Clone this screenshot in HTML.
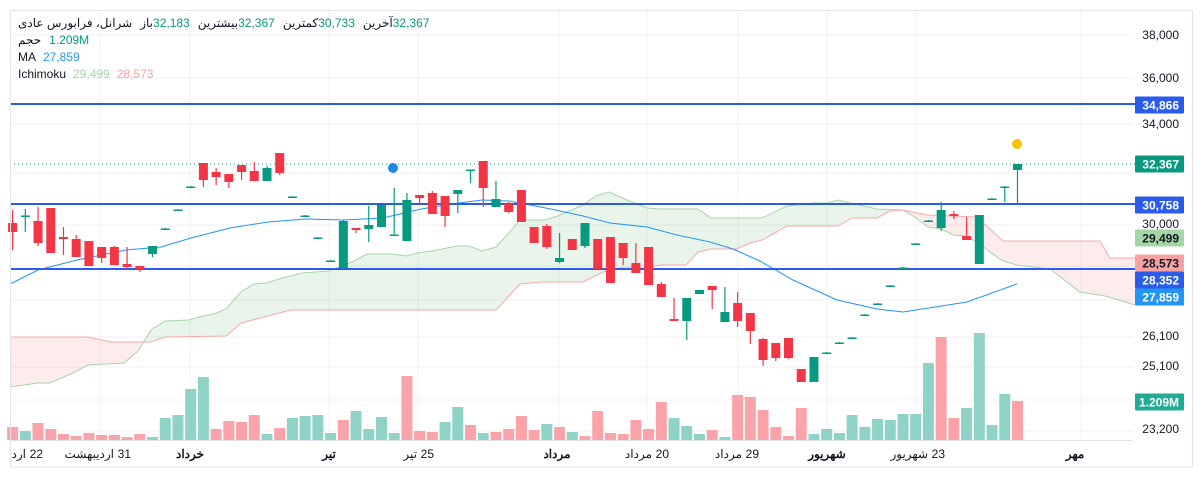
<!DOCTYPE html>
<html><head><meta charset="utf-8">
<style>
html,body{margin:0;padding:0;background:#fff;width:1203px;height:478px;overflow:hidden;font-family:"Liberation Sans","Noto Sans CJK SC",sans-serif}
.leg{position:absolute;left:18px;font-size:12px;color:#131722;white-space:nowrap;display:flex;direction:ltr}
.leg span{display:block}
.g{color:#089981}.b{color:#2196f3}.lg{color:#a5d6a7}.lr{color:#f7a2a2}
</style></head><body>
<svg id="s" width="1203" height="478" style="position:absolute;left:0;top:0" font-family="Liberation Sans, Noto Sans CJK SC, sans-serif"></svg>
<div class="leg" style="top:16px"><span>شرانل، فرابورس عادی</span><span style="width:8px"></span><span>باز</span><span class="g">32,183</span><span style="width:8px"></span><span>بیشترین</span><span class="g">32,367</span><span style="width:8px"></span><span>کمترین</span><span class="g">30,733</span><span style="width:8px"></span><span>آخرین</span><span class="g">32,367</span></div>
<div class="leg" style="top:33px"><span>حجم</span><span style="width:8px"></span><span class="g">1.209M</span></div>
<div class="leg" style="top:50px"><span>MA</span><span style="width:7px"></span><span class="b">27,859</span></div>
<div class="leg" style="top:67px"><span>Ichimoku</span><span style="width:7px"></span><span class="lg">29,499</span><span style="width:7px"></span><span class="lr">28,573</span></div>
<script>
const S=document.getElementById('s');let h='';
const X=i=>12.6+i*12.72;
[35,78,124,173,225,266,300,337,367,400,431].forEach(y=>h+=`<line x1="10" x2="1133" y1="${y}" y2="${y}" stroke="#f0f1f4"/>`);
[100,190,329,418,559,647,738,827,916,1081].forEach(x=>h+=`<line x1="${x}" x2="${x}" y1="10" y2="440" stroke="#f0f1f4"/>`);
const A=[[10,387],[38,383],[50,383],[73,373],[88,365],[124,363],[138,351],[151,330],[165,321],[189,320],[203,316],[214,314],[226,309],[241,292],[254,284],[266,283],[279,279],[302,273],[329,271],[354,261],[367,254],[392,254],[406,256],[417,253],[432,251],[457,246],[469,246],[482,251],[496,247],[509,233],[520,220],[545,220],[560,215],[583,205],[596,196],[609,192],[627,200],[647,208],[660,209],[698,209],[711,218],[762,218],[787,206],[813,203],[827,203],[838,200],[850,203],[877,209],[903,210],[913,216],[928,227],[942,229],[953,235],[965,236],[977,242],[990,252],[1003,261],[1017,265],[1050,269],[1080,292],[1105,296],[1135,305]];
const B=[[10,337],[88,337],[111,342],[151,342],[165,337],[226,336],[241,323],[279,313],[291,310],[496,310],[520,284],[543,282],[583,282],[603,272],[620,268],[647,268],[660,265],[686,265],[698,252],[711,249],[737,249],[750,243],[762,240],[787,226],[838,226],[852,218],[877,218],[890,211],[903,210],[927,215],[977,217],[1003,241],[1100,241],[1110,258],[1135,258]];
const pts=a=>a.map(p=>p.join(',')).join(' ');
const poly=pts(A)+' '+pts(B.slice().reverse());
h+=`<defs><clipPath id="ax"><rect x="11" y="440" width="1180" height="26"/></clipPath><clipPath id="cr"><rect x="0" y="0" width="146" height="478"/><rect x="903" y="0" width="240" height="478"/></clipPath><clipPath id="cg"><rect x="146" y="0" width="757" height="478"/></clipPath></defs>`;
h+=`<polygon points="${poly}" fill="rgba(242,54,69,0.1)" clip-path="url(#cr)"/>`;
h+=`<polygon points="${poly}" fill="rgba(76,175,80,0.12)" clip-path="url(#cg)"/>`;
h+=`<polyline points="${pts(A)}" fill="none" stroke="#a5d6a7" stroke-width="1"/>`;
h+=`<polyline points="${pts(B)}" fill="none" stroke="#f7a9a7" stroke-width="1"/>`;
const vt=[427,431,423,429,434,436,433,435,435,437,434,437,418,415,389,377,429,421,422,415,434,428,418,416,415,433,420,411,429,417,433,376,431,432,422,407,425,433,432,429,416,430,424,427,432,436,411,433,434,420,429,402,418,426,434,430,437,395,397,410,427,436,408,434,429,433,415,427,419,420,414,414,363,337,418,408,333,425,394,401];
const vc='rgrrrrrrrrrgggggrrrrgrggggrggggrrrggrgrrrrgrgrrrrrrrgggrgrrrrrrggggggggggrrgggg';
vt.forEach((t,i)=>{h+=`<rect x="${X(i)-5.5}" y="${t}" width="11" height="${440-t}" fill="${vc[i]=='g'?'#8fd3c7':'#faa3a9'}"/>`});
const M=[[10,284],[38,270],[77,260],[126,250],[161,247],[191,238],[230,228],[268,222],[306,219],[344,220],[383,218],[421,209],[459,203],[482,200],[509,201],[551,209],[583,216],[610,223],[647,227],[677,235],[710,242],[733,249],[760,261],[793,280],[837,300],[877,309],[903,312],[967,302],[1017,284]];
h+=`<polyline points="${pts(M)}" fill="none" stroke="#2196f3" stroke-width="1"/>`;
h+=`<line x1="10" x2="1135" y1="164" y2="164" stroke="#089981" stroke-dasharray="1,3"/>`;
[104,204,269].forEach(y=>h+=`<line x1="10" x2="1135" y1="${y}" y2="${y}" stroke="#2a5bea" stroke-width="2"/>`);
const C=[[0,223,232,210,250,'r'],[1,215.5,217,209,232,'g'],[2,221,243,207,246,'r'],[3,208,253,208,253,'r'],[4,237,239,227,255,'r'],[5,239,257,235,257,'r'],[6,241,266,241,266,'r'],[7,247,258,247,263,'r'],[8,247,265,246,265,'r'],[9,264,267,247,269,'r'],[10,266,269,266,272,'r'],[11,246,254,246,257,'g'],[12,228.5,230,228,230,'g'],[13,209.5,211,209,211,'g'],[14,186.5,188,186,188,'g'],[15,163,180,163,187,'r'],[16,172,177,168,185,'r'],[17,174,182,174,188,'r'],[18,165,172,165,180,'r'],[19,171,181,162,181,'r'],[20,168,181,166,181,'g'],[21,153,173,153,175,'r'],[22,196.5,198,196,198,'g'],[23,215.5,217,215,217,'g'],[24,237.5,239,237,239,'g'],[25,260.5,262,260,262,'g'],[26,221,268,220,268,'g'],[27,228,230,228,233,'r'],[28,225,229,206,242,'g'],[29,205,227,205,227,'g'],[30,234.5,236,188,236,'g'],[31,200,241,193,241,'g'],[32,195,198,195,204,'r'],[33,193,214,191,214,'r'],[34,196,216,196,227,'r'],[35,190,194,190,213,'g'],[36,169.5,171,170,183,'g'],[37,161,188,161,207,'r'],[38,199,207,181,207,'g'],[39,204,212,202,213,'r'],[40,190,222,190,222,'r'],[41,227,243,227,243,'r'],[42,226,247,224,249,'r'],[43,258,262,233,263,'g'],[44,239,250,239,250,'r'],[45,223,246,223,248,'g'],[46,239,269,239,269,'r'],[47,237,283,237,283,'r'],[48,243,258,243,265,'r'],[49,263,273,243,273,'r'],[50,247,285,247,285,'r'],[51,284,297,282,297,'r'],[52,319,321,298,321,'r'],[53,298,321,298,340,'g'],[54,290,294,290,294,'g'],[55,286,290,286,309,'r'],[56,312,322,287,322,'g'],[57,303,321,292,327,'r'],[58,313,331,313,344,'r'],[59,339,360,338,366,'r'],[60,343,358,343,361,'r'],[61,338,358,338,359,'r'],[62,369,382,369,382,'r'],[63,357,382,357,382,'g'],[64,352.5,354,352,354,'g'],[65,342.5,344,342,344,'g'],[66,337.5,339,337,339,'g'],[67,314.5,316,314,316,'g'],[68,303.5,305,303,305,'g'],[69,285.5,287,285,287,'g'],[70,267.5,269,267,269,'g'],[71,243.5,245,243,245,'g'],[72,220.5,222,220,222,'g'],[73,210,228,202,231,'g'],[74,214,216,211,219,'r'],[75,236,240,217,240,'r'],[76,215,264,215,264,'g'],[77,198.5,200,198,200,'g'],[78,186.5,188,186,202,'g'],[79,164,170,164,204,'g']];
C.forEach(([i,t,b,hi,lo,c])=>{const col=c=='g'?'#089981':'#f23645';const x=X(i);
h+=`<line x1="${x}" x2="${x}" y1="${hi}" y2="${lo}" stroke="${col}" stroke-width="1.2"/>`;
h+=`<rect x="${x-4.5}" y="${t}" width="9" height="${Math.max(b-t,1.5)}" fill="${col}"/>`});
h+=`<circle cx="393" cy="168" r="5" fill="#1e88e5"/><circle cx="1017" cy="144" r="5" fill="#f5c400"/>`;
h+=`<rect x="10.5" y="10.5" width="1182" height="456.5" fill="none" stroke="#e0e3eb"/>`;
h+=`<line x1="10" x2="1133" y1="440.5" y2="440.5" stroke="#e0e3eb"/>`;
[[35,'38,000'],[78,'36,000'],[124,'34,000'],[224,'30,000'],[336,'26,100'],[366,'25,100'],[429,'23,200']].forEach(([y,t])=>h+=`<text x="1179" y="${y+4}" font-size="12" fill="#131722" text-anchor="end">${t}</text>`);
[[105,'34,866','#2a5bea','#fff'],[164,'32,367','#089981','#fff'],[205,'30,758','#2a5bea','#fff'],[238,'29,499','#a5d6a7','#131722'],[263,'28,573','#f7a2a2','#131722'],[280,'28,352','#2a5bea','#fff'],[297,'27,859','#2196f3','#fff'],[402,'1.209M','#22ab94','#fff']].forEach(([y,t,bg,fg])=>{h+=`<rect x="1135" y="${y-8.5}" width="49" height="17" rx="1" fill="${bg}"/><text x="1179" y="${y+4.5}" font-size="12" font-weight="bold" fill="${fg}" text-anchor="end">${t}</text>`});
// dated labels: number on the right, word to its left
[[43,'22','اردیبهشت'],[131,'31','اردیبهشت'],[434,'25','تیر'],[669,'20','مرداد'],[759,'29','مرداد'],[945,'23','شهریور']].forEach(([r,n,w])=>{
h+=`<text x="${r}" y="458" font-size="12" fill="#131722" text-anchor="end" clip-path="url(#ax)">${n}</text>`;
h+=`<text x="${r-17}" y="458" font-size="12" fill="#131722" text-anchor="end" clip-path="url(#ax)">${w}</text>`});
[[190,'خرداد'],[329,'تیر'],[557,'مرداد'],[827,'شهریور'],[1075,'مهر']].forEach(([x,t])=>h+=`<text x="${x}" y="458" font-size="12" fill="#131722" text-anchor="middle" font-weight="bold">${t}</text>`);
S.innerHTML=h;
</script>
</body></html>
